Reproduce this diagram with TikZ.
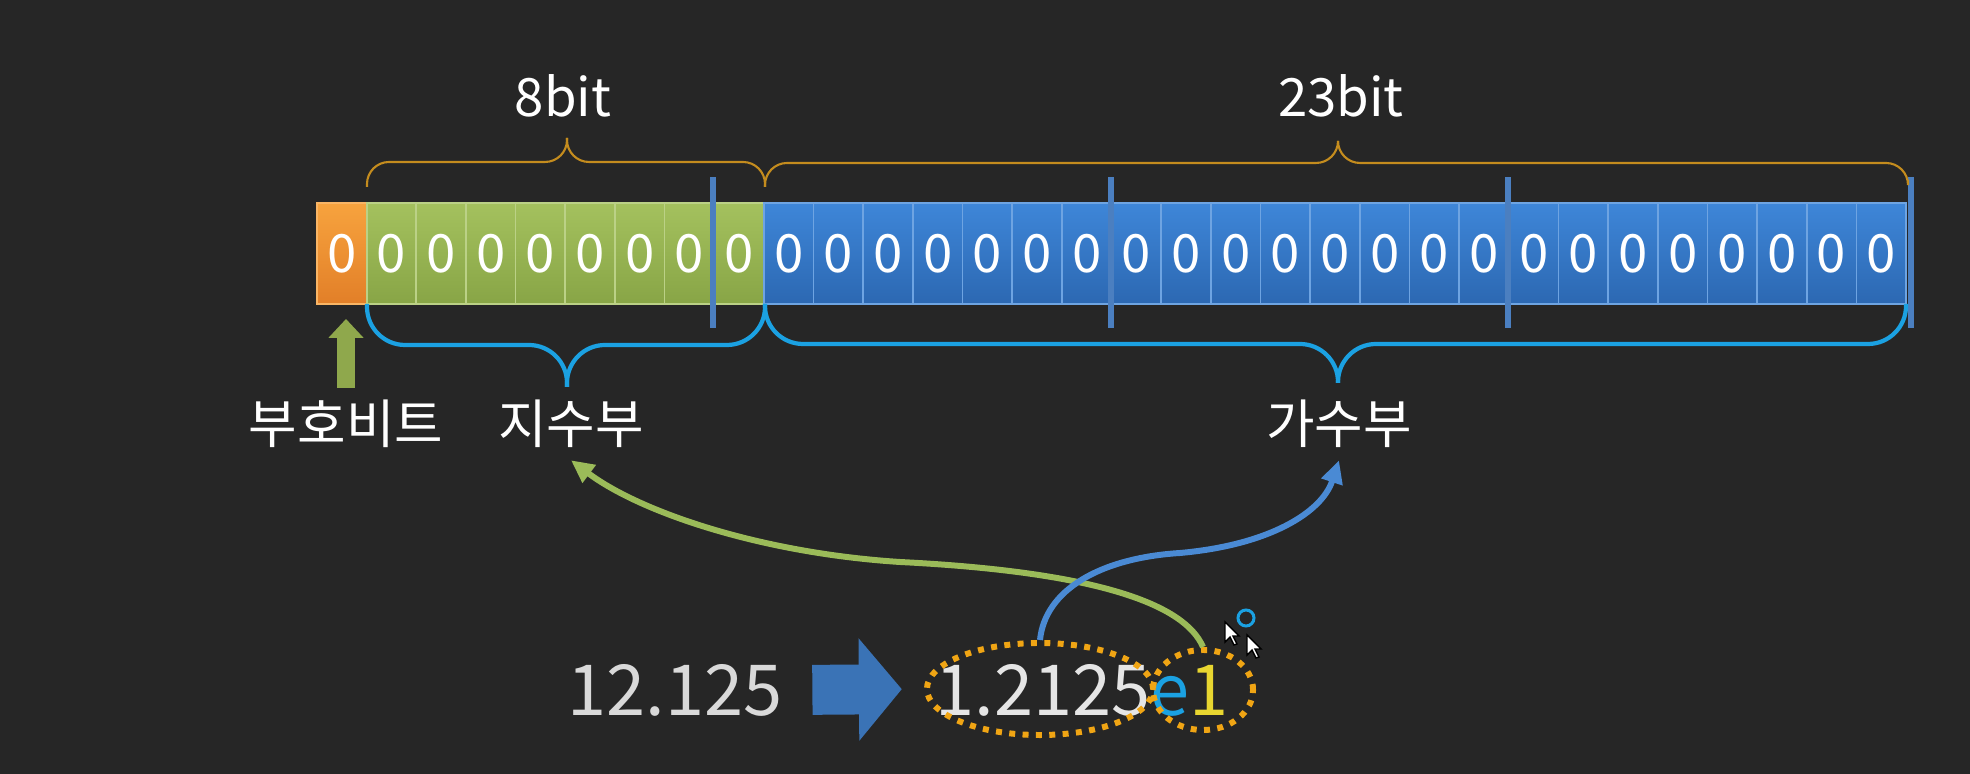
\documentclass[tikz,border=0pt]{standalone}
\usepackage{fontspec}
\setmainfont{Noto Sans CJK KR}
\usetikzlibrary{arrows.meta,shapes.geometric,positioning}

\definecolor{bgcol}{RGB}{38,38,38}
\definecolor{signtop}{RGB}{247,163,62}
\definecolor{signbot}{RGB}{226,127,40}
\definecolor{exptop}{RGB}{164,193,94}
\definecolor{expbot}{RGB}{136,165,70}
\definecolor{mantop}{RGB}{62,134,216}
\definecolor{manbot}{RGB}{44,104,178}
\definecolor{barcol}{RGB}{75,127,192}
\definecolor{goldcol}{RGB}{196,140,30}
\definecolor{cyancol}{RGB}{27,161,226}
\definecolor{greencol}{RGB}{155,187,89}
\definecolor{bluecurve}{RGB}{74,138,212}
\definecolor{dotcol}{RGB}{240,165,20}
\definecolor{yelcol}{RGB}{232,214,48}
\definecolor{arrowcol}{RGB}{58,115,182}
\definecolor{signarr}{RGB}{143,168,76}

\tikzset{
  bitcell/.style={minimum width=0.4966cm,minimum height=1.01cm,inner sep=0pt,
    text=white,font=\fontsize{15pt}{18pt}\selectfont,line width=0.5pt},
  signcell/.style={top color=signtop,bottom color=signbot,draw=signtop!80!white},
  expcell/.style={top color=exptop,bottom color=expbot,draw=exptop!75!white},
  mancell/.style={top color=mantop,bottom color=manbot,draw=mantop!75!white},
  label/.style={text=white,font=\fontsize{15pt}{18pt}\selectfont},
  bignum/.style={font=\fontsize{20pt}{24pt}\selectfont},
  divbar/.style={barcol,line width=1.7pt},
  topbrace/.style={goldcol,line width=0.6pt,rounded corners=0.22cm},
  botbrace/.style={cyancol,line width=1.2pt,rounded corners=0.38cm},
  dotring/.style={ellipse,draw=dotcol,line width=1.7pt,dash pattern=on 1.7pt off 2.1pt,inner sep=0pt},
  curve/.style={line width=1.7pt,-{Triangle[length=6.5pt,width=6pt]}}
}

\begin{document}
\begin{tikzpicture}[x=0.01cm,y=-0.01cm]
  \fill[bgcol] (0,0) rectangle (1970,774);

  % the 32 bits
  \node[bitcell,signcell] (c0) at (341.8,253.5) {0};
  \foreach \i in {1,...,8}
    \node[bitcell,expcell] (c\i) at ({341.8+\i*49.66},253.5) {0};
  \foreach \i in {9,...,31}
    \node[bitcell,mancell] (c\i) at ({341.8+\i*49.66},253.5) {0};
  \foreach \k in {8,16,24}
    \draw[divbar] ([yshift=7.1pt]c\k.north west) -- ([yshift=-6.5pt]c\k.south west);
  \draw[divbar] ([yshift=7.1pt,xshift=1pt]c31.north east) -- ([yshift=-6.5pt,xshift=1pt]c31.south east);

  % braces
  \draw[topbrace] (367,187) |- (567,162) -- (567,138);
  \draw[topbrace] (765,187) |- (567,162) -- (567,138);
  \draw[topbrace] (765,187) |- (1338,163) -- (1338,141);
  \draw[topbrace] (1908,180) |- (1338,163) -- (1338,141);
  \draw[botbrace] (367,304) |- (567,345) -- (567,387);
  \draw[botbrace] (765,304) |- (567,345) -- (567,387);
  \draw[botbrace] (765,304) |- (1338,344) -- (1338,383);
  \draw[botbrace] (1906,304) |- (1338,344) -- (1338,383);

  \node[label] (bits8) at (563,96) {8bit};
  \node[label] (bits23) at (1341,96) {23bit};
  \node[label] (sign) at (346,424) {부호비트};
  \node[label] (expo) at (571,424) {지수부};
  \node[label] (mant) at (1339,424) {가수부};

  \draw[signarr,line width=5.1pt,-{Triangle[length=5.4pt,width=9.7pt]},shorten >=4pt]
    (sign.north) -- (sign.north |- c0.south);

  % 12.125 -> 1.2125e1
  \node[bignum,text=white!85!black] (dec) at (675,690) {12.125};
  \node[bignum,text=white!90!black] (sci) at (1082,690)
    {1.2125\textcolor{cyancol}{e}\textcolor{yelcol}{1}};
  \node[dotring,minimum width=2.26cm,minimum height=0.92cm] (mring) at (1040,689) {};
  \node[dotring,minimum width=1.0cm,minimum height=0.8cm] (ering) at (1203,690) {};
  \draw[arrowcol,line width=14.2pt,-{Triangle[length=12.2pt,width=28.5pt]},
    shorten <=5pt,shorten >=6.3pt] (dec.east) -- (mring.west);

  \draw[curve,greencol] (ering.north) .. controls (1185,605) and (1100,572) .. (900,562)
    .. controls (760,553) and (640,512) .. (expo.south);
  \draw[curve,bluecurve] (mring.north) .. controls (1045,590) and (1100,558) .. (1180,553)
    .. controls (1270,545) and (1322,512) .. (mant.south);

  % mouse pointer
  \draw[cyancol,line width=0.85pt] (1246,618) circle[radius=0.08cm];
  \foreach \p in {(1225,622),(1247,635)}
    \draw[fill=white,draw=black,line width=0.4pt,shift={\p}]
      (0,0) -- (0,20) -- (5,15) -- (9,23) -- (12,22) -- (8,14) -- (14,14) -- cycle;
\end{tikzpicture}
\end{document}
